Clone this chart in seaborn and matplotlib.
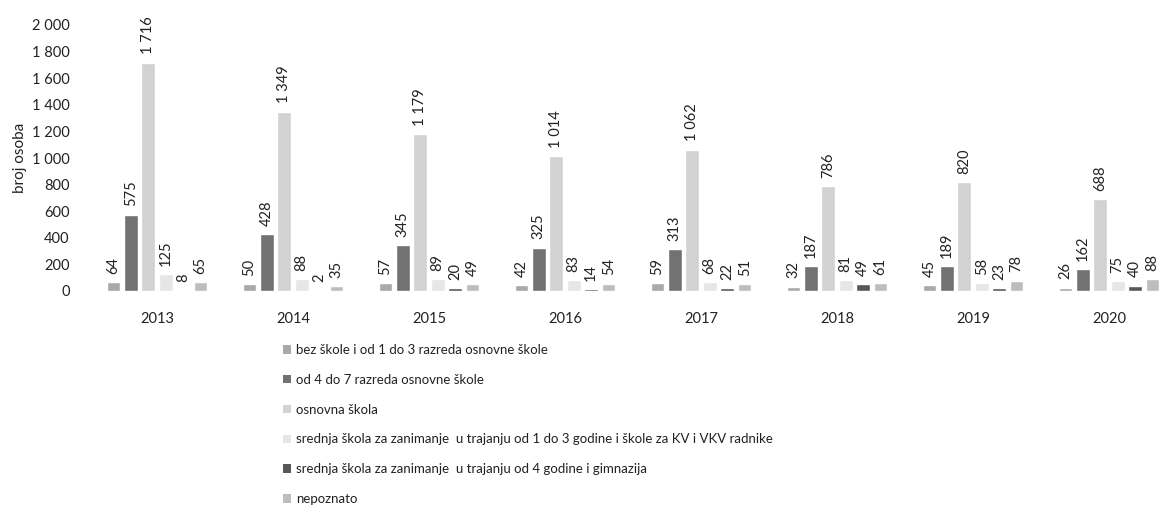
import matplotlib
matplotlib.use("Agg")
import matplotlib.pyplot as plt
import seaborn as sns
import pandas as pd
from matplotlib.patches import Patch

years = ["2013", "2014", "2015", "2016", "2017", "2018", "2019", "2020"]
series = [
    "bez škole i od 1 do 3 razreda osnovne škole",
    "od 4 do 7 razreda osnovne škole",
    "osnovna škola",
    "srednja škola za zanimanje  u trajanju od 1 do 3 godine i škole za KV i VKV radnike",
    "srednja škola za zanimanje  u trajanju od 4 godine i gimnazija",
    "nepoznato",
]
bez_skole = [64, 50, 57, 42, 59, 32, 45, 26]
od_4_do_7 = [575, 428, 345, 325, 313, 187, 189, 162]
osnovna = [1716, 1349, 1179, 1014, 1062, 786, 820, 688]
srednja_1_3 = [125, 88, 89, 83, 68, 81, 58, 75]
srednja_4 = [8, 2, 20, 14, 22, 49, 23, 40]
nepoznato = [65, 35, 49, 54, 51, 61, 78, 88]
y_ticks = [0, 200, 400, 600, 800, 1000, 1200, 1400, 1600, 1800, 2000]
y_label = "broj osoba"

colors = ["#a9a9a9", "#727272", "#d2d2d2", "#e6e6e6", "#585858", "#bdbdbd"]

all_vals = [bez_skole, od_4_do_7, osnovna, srednja_1_3, srednja_4, nepoznato]
rows = []
for s, vals in zip(series, all_vals):
    for y, v in zip(years, vals):
        rows.append({"godina": y, "serija": s, "vrijednost": v})
df = pd.DataFrame(rows)

sns.set_theme(style="white")
plt.rcParams["font.family"] = ["Lato", "DejaVu Sans"]

fig = plt.figure(figsize=(11.6, 5.19), dpi=100)
W, H = 1160, 519
left_px, right_px = 89, 1160
top_px, bottom_px = 25, 291
step_px = 136.0
ax = fig.add_axes([left_px / W, 1 - bottom_px / H,
                   (right_px - left_px) / W, (bottom_px - top_px) / H])

sns.barplot(data=df, x="godina", y="vrijednost", hue="serija",
            hue_order=series, order=years, palette=colors,
            width=0.77, gap=0.22, ax=ax, legend=False, saturation=1)

def fmt(v):
    return f"{int(v):,}".replace(",", " ")

for cont in ax.containers:
    ax.bar_label(cont, labels=[fmt(b.get_height()) for b in cont],
                 rotation=90, padding=6, fontsize=10.5, color="#222222")

ax.set_ylim(0, 2000)
ax.set_xlim(-0.5, -0.5 + (right_px - left_px) / step_px)
ax.set_yticks(y_ticks)
ax.set_yticklabels([fmt(t) for t in y_ticks], fontsize=10.5, color="#222222")
ax.tick_params(axis="y", pad=14, length=0)
ax.tick_params(axis="x", pad=15, length=0, labelsize=10.5, labelcolor="#222222")
ax.set_xlabel("")
ax.set_ylabel(y_label, fontsize=11, color="#222222")
ax.yaxis.set_label_coords(-(left_px - 27) / (right_px - left_px), 0.5)
for sp in ax.spines.values():
    sp.set_visible(False)

handles = [Patch(facecolor=c, edgecolor="none") for c in colors]
leg = fig.legend(handles, series, loc="upper left",
                 bbox_to_anchor=(283 / W, 1 - 344 / H),
                 frameon=False, fontsize=9.5, labelspacing=1.35,
                 handlelength=0.6, handleheight=0.6, handletextpad=0.4,
                 borderaxespad=0, borderpad=0)
for t in leg.get_texts():
    t.set_color("#222222")

fig.savefig("out.png", dpi=100, facecolor="white")
